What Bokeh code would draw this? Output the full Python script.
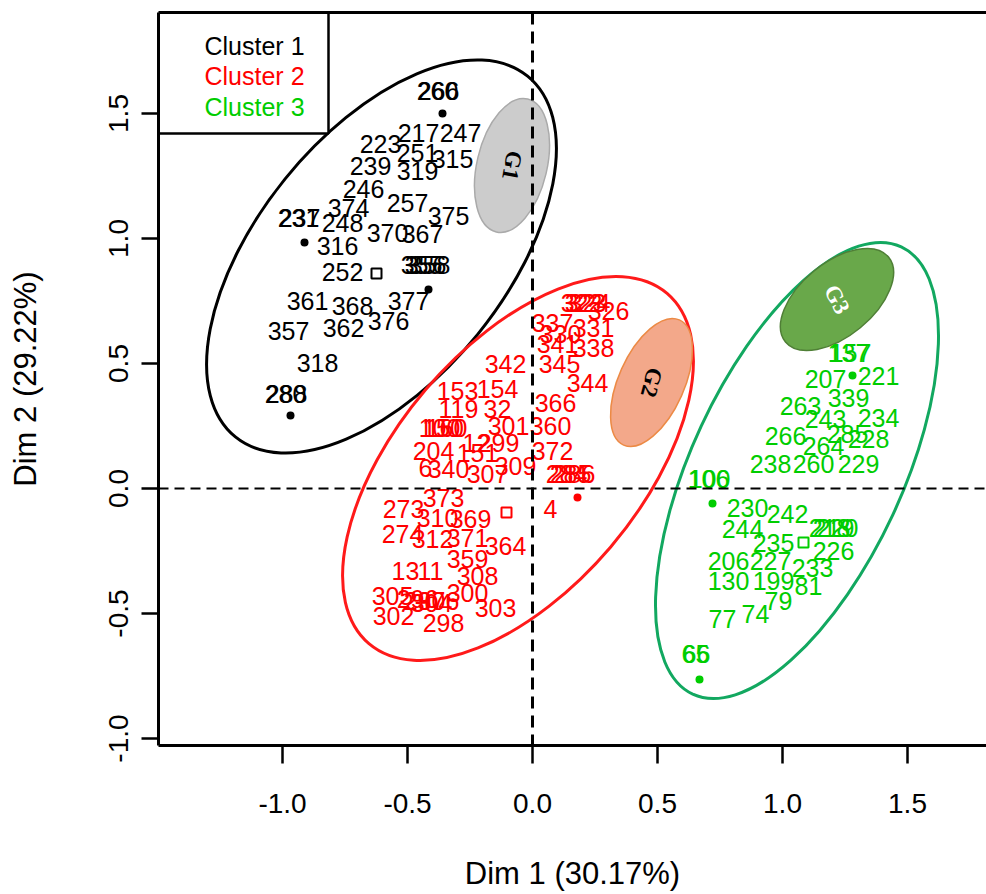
from bokeh.plotting import figure
from bokeh.models import (Range1d, FixedTicker, PrintfTickFormatter, Span, LinearAxis,
                          ColumnDataSource)
from bokeh.core.properties import value
from bokeh.embed import file_html
from bokeh.resources import INLINE
import math

# ---------------- data ----------------
c1_labels = ["260", "266", "217", "247", "223", "251", "315", "239", "319", "246", "257",
             "374", "375", "231", "237", "248", "370", "367", "316", "252", "355", "356", "358",
             "361", "368", "377", "376", "357", "362", "318", "280", "288"]
c1_x = [-0.38, -0.376, -0.456, -0.288, -0.608, -0.46, -0.32, -0.648, -0.46, -0.676, -0.5,
        -0.736, -0.336, -0.936, -0.932, -0.76, -0.58, -0.44, -0.78, -0.76, -0.444, -0.428, -0.412,
        -0.9, -0.72, -0.496, -0.576, -0.976, -0.756, -0.86, -0.988, -0.984]
c1_y = [1.592, 1.592, 1.424, 1.424, 1.38, 1.344, 1.32, 1.292, 1.272, 1.2, 1.144,
        1.124, 1.092, 1.084, 1.084, 1.064, 1.024, 1.02, 0.972, 0.868, 0.896, 0.896, 0.896,
        0.752, 0.732, 0.752, 0.672, 0.632, 0.644, 0.504, 0.38, 0.38]

c2_labels = ["322", "323", "324", "326", "337", "331", "330", "341", "338", "342", "345", "344",
             "153", "154", "366", "119", "32", "100", "150", "160", "301", "360", "12", "299",
             "204", "151", "372", "6", "340", "307", "309", "284", "285", "286", "4", "373",
             "273", "310", "369", "274", "312", "371", "364", "359", "13", "11", "308",
             "300", "305", "296", "297", "304", "306", "302", "298", "303"]
c2_x = [0.196, 0.212, 0.228, 0.304, 0.08, 0.244, 0.112, 0.1, 0.244, -0.108, 0.108, 0.22,
        -0.3, -0.14, 0.092, -0.296, -0.14, -0.372, -0.358, -0.344, -0.096, 0.072, -0.224, -0.136,
        -0.396, -0.22, 0.08, -0.428, -0.336, -0.18, -0.068, 0.136, 0.152, 0.168, 0.072, -0.356,
        -0.516, -0.38, -0.248, -0.52, -0.4, -0.26, -0.108, -0.26, -0.508, -0.408, -0.22,
        -0.26, -0.56, -0.46, -0.432, -0.404, -0.376, -0.556, -0.356, -0.148]
c2_y = [0.744, 0.744, 0.744, 0.712, 0.664, 0.644, 0.62, 0.58, 0.564, 0.5, 0.5, 0.424,
        0.392, 0.4, 0.344, 0.32, 0.32, 0.244, 0.244, 0.244, 0.252, 0.252, 0.184, 0.184,
        0.152, 0.144, 0.152, 0.084, 0.08, 0.06, 0.092, 0.06, 0.06, 0.06, -0.08, -0.036,
        -0.08, -0.116, -0.12, -0.18, -0.2, -0.196, -0.228, -0.28, -0.328, -0.328, -0.348,
        -0.416, -0.428, -0.44, -0.448, -0.456, -0.448, -0.508, -0.536, -0.476]

c3_labels = ["137", "157", "207", "221", "339", "263", "243", "234", "266", "285", "228",
             "264", "238", "260", "229", "106", "100", "230", "242", "244", "218", "219", "220",
             "235", "226", "206", "227", "233", "130", "199", "81", "79", "74", "77",
             "65", "66"]
c3_x = [1.264, 1.272, 1.172, 1.384, 1.264, 1.072, 1.172, 1.384, 1.012, 1.26, 1.344,
        1.164, 0.952, 1.124, 1.304, 0.704, 0.708, 0.86, 1.02, 0.84, 1.188, 1.204, 1.22,
        0.964, 1.204, 0.784, 0.952, 1.12, 0.784, 0.964, 1.104, 0.984, 0.892, 0.76,
        0.652, 0.656]
c3_y = [0.544, 0.544, 0.44, 0.452, 0.364, 0.332, 0.28, 0.284, 0.212, 0.22, 0.2,
        0.172, 0.1, 0.1, 0.1, 0.04, 0.04, -0.076, -0.1, -0.16, -0.156, -0.156, -0.156,
        -0.216, -0.248, -0.288, -0.288, -0.316, -0.368, -0.368, -0.388, -0.448, -0.5, -0.52,
        -0.66, -0.66]

# individual points shown as dots
dot_x = [-0.912, -0.416, -0.968, -0.36, 0.18, 0.72, 0.668, 1.28]
dot_y = [0.984, 0.796, 0.292, 1.5, -0.036, -0.06, -0.764, 0.452]
dot_cluster = [1, 1, 1, 1, 2, 3, 3, 3]

# cluster centres (open squares)
ctr_x = [-0.624, -0.104, 1.084]
ctr_y = [0.86, -0.096, -0.216]

# confidence ellipses per cluster: centre, full width, full height, angle (deg)
ell_x = [-0.604, -0.058, 1.058]
ell_y = [0.928, 0.08, 0.072]
ell_w = [1.857, 1.84, 1.974]
ell_h = [0.99, 0.972, 0.845]
ell_a = [51.0, 49.6, 65.0]

# group ellipses G1..G3
g_names = ["G1", "G2", "G3"]
g_x = [-0.082, 0.476, 1.218]
g_y = [1.292, 0.424, 0.756]
g_w = [0.546, 0.548, 0.534]
g_h = [0.28, 0.263, 0.293]
g_a = [76.7, 66.0, 39.5]
g_text_a = [-100.0, -105.0, -62.0]

legend_labels = ["Cluster 1", "Cluster 2", "Cluster 3"]

x_ticks = [-1.0, -0.5, 0.0, 0.5, 1.0, 1.5]
y_ticks = [-1.0, -0.5, 0.0, 0.5, 1.0, 1.5]

# ---------------- style ----------------
FONT = "Liberation Sans"
COLS = ["#000000", "#ff0000", "#00cd00"]
ELL_COLS = ["#000000", "#ff1a1a", "#12a860"]
G_FILL = ["#cccccc", "#f3a88a", "#69a84a"]
G_LINE = ["#aaaaaa", "#ec8a45", "#4f7f36"]
G_TEXT = ["#000000", "#000000", "#ffffff"]

X_LO, X_HI = -1.496, 1.816
Y_LO, Y_HI = -1.028, 1.904

p = figure(width=986, height=894, x_range=Range1d(X_LO, X_HI), y_range=Range1d(Y_LO, Y_HI),
           output_backend="svg", toolbar_location=None,
           min_border_left=158, min_border_right=0, min_border_top=12, min_border_bottom=149)
p.outline_line_color = None
p.xgrid.visible = False
p.ygrid.visible = False
p.background_fill_color = "white"
p.border_fill_color = "white"

# axes
for ax, ticks in ((p.xaxis[0], x_ticks), (p.yaxis[0], y_ticks)):
    ax.ticker = FixedTicker(ticks=ticks)
    ax.formatter = PrintfTickFormatter(format="%.1f")
    ax.axis_line_width = 3
    ax.major_tick_line_width = 2.5
    ax.major_tick_in = 0
    ax.major_tick_out = 18
    ax.minor_tick_line_color = None
    ax.major_label_text_font = FONT
    ax.major_label_text_font_size = "28px"
    ax.major_label_text_color = "black"
    ax.axis_label_text_font = FONT
    ax.axis_label_text_font_size = "31px"
    ax.axis_label_text_font_style = "normal"
    ax.axis_label_text_color = "black"

p.xaxis.axis_label = "Dim 1 (30.17%)"
p.yaxis.axis_label = "Dim 2 (29.22%)"
p.xaxis.major_label_standoff = 30
p.xaxis.axis_label_standoff = 40
p.yaxis.major_label_standoff = 14
p.yaxis.major_tick_out = 17
p.yaxis.major_label_orientation = "vertical"
p.yaxis.axis_label_standoff = 63

top_axis = LinearAxis(ticker=FixedTicker(ticks=[]), axis_line_width=3, major_tick_out=0,
                      major_tick_in=0, minor_tick_out=0, minor_tick_in=0,
                      major_label_standoff=0, major_label_text_font_size="0px")
p.add_layout(top_axis, "above")

# cluster ellipses
p.ellipse(x=ell_x, y=ell_y, width=ell_w, height=ell_h,
          angle=[math.radians(a) for a in ell_a], angle_units="rad",
          fill_color=None, line_color=ELL_COLS, line_width=3)

# group ellipses
p.ellipse(x=g_x, y=g_y, width=g_w, height=g_h,
          angle=[math.radians(a) for a in g_a], angle_units="rad",
          fill_color=G_FILL, line_color=G_LINE, line_width=1.5)
p.text(x=g_x, y=g_y, text=g_names,
       angle=[math.radians(a) for a in g_text_a], angle_units="rad",
       text_font=value("Liberation Serif"), text_font_size="23px", text_font_style="bold",
       text_align="center", text_baseline="middle", text_color=G_TEXT)

# dashed reference lines
p.add_layout(Span(location=0, dimension="height", line_color="black", line_width=3,
                  line_dash="12 7"))
p.add_layout(Span(location=0, dimension="width", line_color="black", line_width=2,
                  line_dash="10 6"))

# points
p.scatter(x=dot_x, y=dot_y, size=8, marker="circle",
          color=[COLS[c - 1] for c in dot_cluster], line_width=0)
p.scatter(x=ctr_x, y=ctr_y, size=10, marker="square", fill_color=None,
          line_color=COLS, line_width=2)

# labels
for lab, xs, ys, col in ((c1_labels, c1_x, c1_y, COLS[0]),
                         (c2_labels, c2_x, c2_y, COLS[1]),
                         (c3_labels, c3_x, c3_y, COLS[2])):
    src = ColumnDataSource(dict(x=xs, y=ys, t=lab))
    p.text(x="x", y="y", text="t", source=src, text_font=value(FONT),
           text_font_size="25px", text_align="center", text_baseline="middle",
           text_color=col)

# legend box in the top-left corner of the frame
LW, LH = 0.68, 0.484
p.quad(left=[X_LO], right=[X_LO + LW], bottom=[Y_HI - LH], top=[Y_HI],
       fill_color="white", line_color="black", line_width=2.5)
p.text(x=[X_LO + 0.184] * 3, y=[Y_HI - 0.132 - 0.122 * i for i in range(3)],
       text=legend_labels, text_font=value(FONT), text_font_size="25px",
       text_align="left", text_baseline="middle", text_color=COLS)

html = file_html(p, INLINE)
open("out.html", "w").write(html)
